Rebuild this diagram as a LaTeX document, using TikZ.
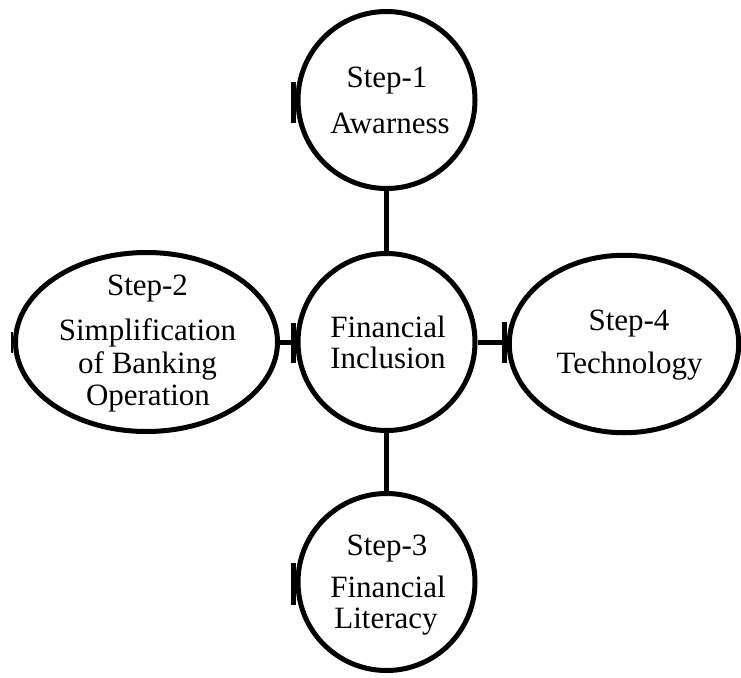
\documentclass[tikz,border=0pt]{standalone}
\usepackage{fontspec}
\setmainfont{Liberation Serif}
\usetikzlibrary{shapes.geometric}
\begin{document}
\begin{tikzpicture}[x=1pt,y=-1pt,
  shapebox/.style={draw=black,line width=5pt,inner sep=0pt,fill=none},
  roundbox/.style={shapebox,circle,minimum size=177pt},
  ovalbox/.style={shapebox,ellipse},
  link/.style={draw=black,line width=5pt},
  tickmark/.style={draw=black,line width=4.6pt},
  lbl/.style={anchor=base,inner sep=0pt,font=\fontsize{31}{33}\selectfont}]
\useasboundingbox (0,0) rectangle (741,677);
% shapes
\node[roundbox] (top) at (386.5,100) {};
\node[roundbox] (mid) at (386.5,342) {};
\node[roundbox] (bot) at (386.5,582) {};
\node[ovalbox,minimum width=262pt,minimum height=179pt] (left) at (146.5,342) {};
\node[ovalbox,minimum width=229.5pt,minimum height=177.5pt] (right) at (624,344) {};
% connectors
\draw[link] (top.south) -- (mid.north);
\draw[link] (mid.south) -- (bot.north);
\draw[link] (left.east) -- (mid.west);
\draw[link] (mid.east) -- (mid.east -| right.west);
% small ticks at left edges
\draw[tickmark] ([xshift=-2pt,yshift=18pt]top.west) -- ([xshift=-2pt,yshift=-23pt]top.west);
\draw[tickmark] ([xshift=-2pt,yshift=19pt]mid.west) -- ([xshift=-2pt,yshift=-21pt]mid.west);
\draw[tickmark] ([xshift=-2pt,yshift=19pt]bot.west) -- ([xshift=-2pt,yshift=-23pt]bot.west);
\draw[tickmark] ([xshift=-2pt,yshift=22pt]right.west) -- ([xshift=-2pt,yshift=-19pt]right.west);
\draw[draw=black,line width=2pt] ([xshift=-1pt,yshift=10pt]left.west) -- ([xshift=-1pt,yshift=-11pt]left.west);
% texts
\node[lbl] (t1a) at (387,87) {Step-1};
\node[lbl] (t1b) at (390,133) {Awarness};
\node[lbl] (t2a) at (147.5,295) {Step-2};
\node[lbl] (t2b) at (147.5,340) {Simplification};
\node[lbl] (t2c) at (147.5,373) {of Banking};
\node[lbl] (t2d) at (148,405) {Operation};
\node[lbl] (tca) at (388,337) {Financial};
\node[lbl] (tcb) at (388,368) {Inclusion};
\node[lbl] (t3a) at (387,555) {Step-3};
\node[lbl] (t3b) at (388,597) {Financial};
\node[lbl] (t3c) at (386,628) {Literacy};
\node[lbl] (t4a) at (629,330) {Step-4};
\node[lbl] (t4b) at (629.5,373) {Technology};
\end{tikzpicture}
\end{document}
